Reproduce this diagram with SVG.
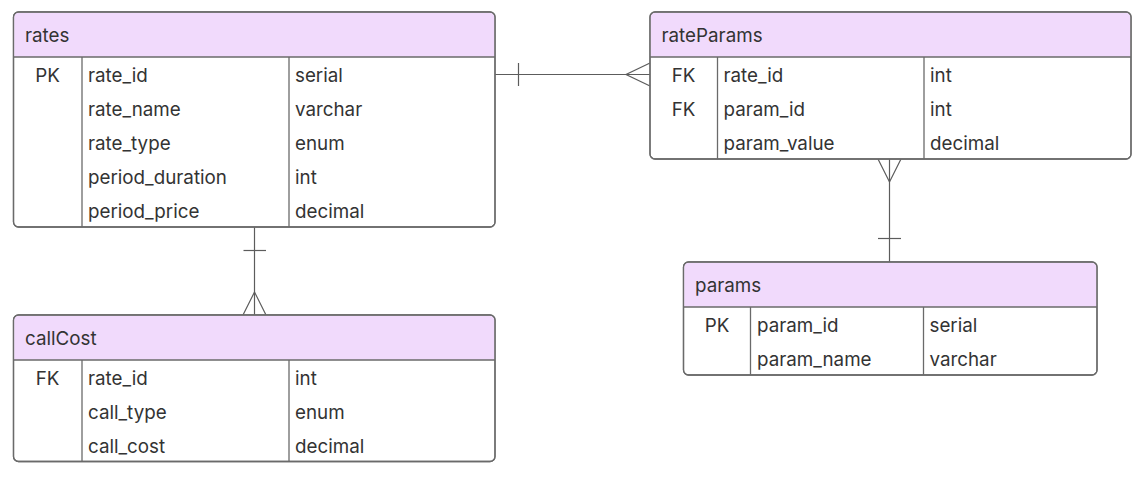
<svg xmlns="http://www.w3.org/2000/svg" width="1144" height="479" viewBox="0 0 1144 479">
<style>
.box{fill:#ffffff;stroke:#6a6a6a;stroke-width:1.3}
.hdr{fill:#f1dafc;stroke:none}
.sep{stroke:#6a6a6a;stroke-width:1.3;fill:none}
.t{font-family:Inter,"Liberation Sans",sans-serif;font-size:18.8px;fill:#333333}
.k{text-anchor:middle}
.c{stroke:#5c5c5c;stroke-width:1.2;fill:none}
</style>
<rect width="1144" height="479" fill="#ffffff"/>
<g id="connectors">
  <line class="c" x1="495" y1="74.5" x2="650" y2="74.5"/>
  <line class="c" x1="518.5" y1="63" x2="518.5" y2="86"/>
  <polyline class="c" points="650,63 626,74.5 650,86"/>
  <line class="c" x1="889.5" y1="159" x2="889.5" y2="262"/>
  <polyline class="c" points="878,159 889.5,182 901,159"/>
  <line class="c" x1="878" y1="238.5" x2="901" y2="238.5"/>
  <line class="c" x1="254.5" y1="227" x2="254.5" y2="315"/>
  <line class="c" x1="243.5" y1="250.5" x2="266" y2="250.5"/>
  <polyline class="c" points="243,315 254.5,292 266,315"/>
</g>
<g id="rates">
  <rect class="box" x="13.5" y="12" width="481.5" height="215" rx="5"/>
  <path class="hdr" d="M14.2,57 V17 a4.3,4.3 0 0 1 4.3,-4.3 H490 a4.3,4.3 0 0 1 4.3,4.3 V57 Z"/>
  <rect x="13.5" y="12" width="481.5" height="215" rx="5" fill="none" stroke="#6a6a6a" stroke-width="1.3"/>
  <line class="sep" x1="13.5" y1="57" x2="495" y2="57"/>
  <line class="sep" x1="82" y1="57" x2="82" y2="227"/>
  <line class="sep" x1="289" y1="57" x2="289" y2="227"/>
  <text class="t" x="25" y="41.5">rates</text>
  <text class="t k" x="47.5" y="81.5">PK</text>
  <text class="t" x="88" y="81.5">rate_id</text>
  <text class="t" x="295" y="81.5">serial</text>
  <text class="t" x="88" y="115.5">rate_name</text>
  <text class="t" x="295" y="115.5">varchar</text>
  <text class="t" x="88" y="149.5">rate_type</text>
  <text class="t" x="295" y="149.5">enum</text>
  <text class="t" x="88" y="183.5">period_duration</text>
  <text class="t" x="295" y="183.5">int</text>
  <text class="t" x="88" y="217.5">period_price</text>
  <text class="t" x="295" y="217.5">decimal</text>
</g>
<g id="rateParams">
  <rect class="box" x="650" y="12" width="481" height="147" rx="5"/>
  <path class="hdr" d="M650.7,57 V17 a4.3,4.3 0 0 1 4.3,-4.3 H1126 a4.3,4.3 0 0 1 4.3,4.3 V57 Z"/>
  <rect x="650" y="12" width="481" height="147" rx="5" fill="none" stroke="#6a6a6a" stroke-width="1.3"/>
  <line class="sep" x1="650" y1="57" x2="1131" y2="57"/>
  <line class="sep" x1="717.5" y1="57" x2="717.5" y2="159"/>
  <line class="sep" x1="924" y1="57" x2="924" y2="159"/>
  <text class="t" x="661.5" y="41.5">rateParams</text>
  <text class="t k" x="683.5" y="81.5">FK</text>
  <text class="t" x="723.5" y="81.5">rate_id</text>
  <text class="t" x="930" y="81.5">int</text>
  <text class="t k" x="683.5" y="115.5">FK</text>
  <text class="t" x="723.5" y="115.5">param_id</text>
  <text class="t" x="930" y="115.5">int</text>
  <text class="t" x="723.5" y="149.5">param_value</text>
  <text class="t" x="930" y="149.5">decimal</text>
</g>
<g id="params">
  <rect class="box" x="683.5" y="262" width="413.5" height="113" rx="5"/>
  <path class="hdr" d="M684.2,307 V267 a4.3,4.3 0 0 1 4.3,-4.3 H1092 a4.3,4.3 0 0 1 4.3,4.3 V307 Z"/>
  <rect x="683.5" y="262" width="413.5" height="113" rx="5" fill="none" stroke="#6a6a6a" stroke-width="1.3"/>
  <line class="sep" x1="683.5" y1="307" x2="1097" y2="307"/>
  <line class="sep" x1="750.5" y1="307" x2="750.5" y2="375"/>
  <line class="sep" x1="923.5" y1="307" x2="923.5" y2="375"/>
  <text class="t" x="695" y="291.5">params</text>
  <text class="t k" x="717" y="331.5">PK</text>
  <text class="t" x="757" y="331.5">param_id</text>
  <text class="t" x="929.5" y="331.5">serial</text>
  <text class="t" x="757" y="365.5">param_name</text>
  <text class="t" x="929.5" y="365.5">varchar</text>
</g>
<g id="callCost">
  <rect class="box" x="13.5" y="315" width="481.5" height="146.5" rx="5"/>
  <path class="hdr" d="M14.2,360 V320 a4.3,4.3 0 0 1 4.3,-4.3 H490 a4.3,4.3 0 0 1 4.3,4.3 V360 Z"/>
  <rect x="13.5" y="315" width="481.5" height="146.5" rx="5" fill="none" stroke="#6a6a6a" stroke-width="1.3"/>
  <line class="sep" x1="13.5" y1="360" x2="495" y2="360"/>
  <line class="sep" x1="82" y1="360" x2="82" y2="461.5"/>
  <line class="sep" x1="289" y1="360" x2="289" y2="461.5"/>
  <text class="t" x="25" y="344.5">callCost</text>
  <text class="t k" x="47.5" y="384.5">FK</text>
  <text class="t" x="88" y="384.5">rate_id</text>
  <text class="t" x="295" y="384.5">int</text>
  <text class="t" x="88" y="418.5">call_type</text>
  <text class="t" x="295" y="418.5">enum</text>
  <text class="t" x="88" y="452.5">call_cost</text>
  <text class="t" x="295" y="452.5">decimal</text>
</g>
</svg>
